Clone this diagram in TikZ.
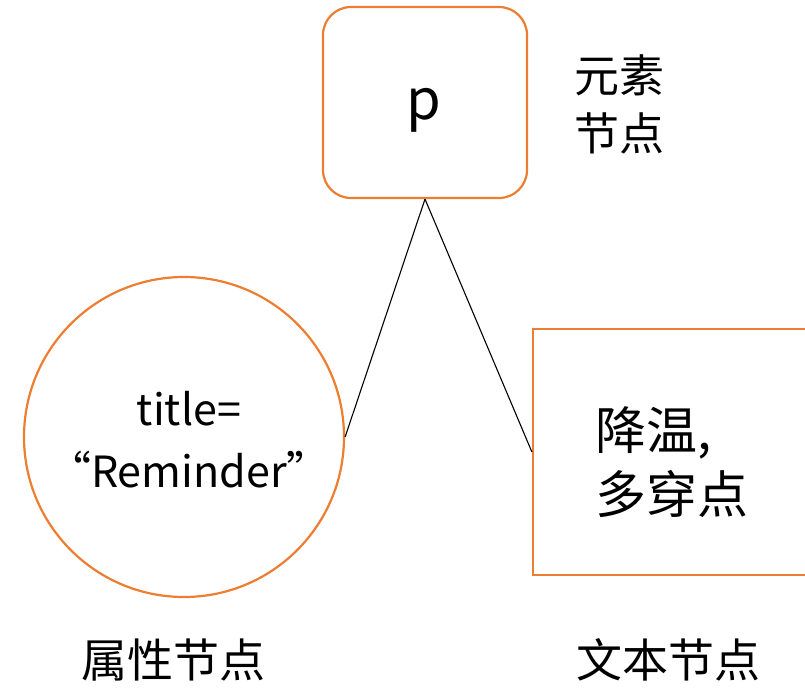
\documentclass[tikz,border=0pt]{standalone}
\usepackage{fontspec}
\setmainfont{Noto Sans CJK SC}
\definecolor{office}{HTML}{ED7D31}
\begin{document}
\begin{tikzpicture}[x=1pt,y=-1pt,
  box/.style={draw=office,line width=2.2pt,inner sep=0pt},
  lbl/.style={inner sep=0pt,align=left},
  link/.style={draw=black,line width=1.1pt}]
\useasboundingbox (0,0) rectangle (805,688);
\begin{scope}
\clip (0,0) rectangle (805,688);
\node[box,rounded corners=28pt,minimum width=204pt,minimum height=191pt] (p) at (425,102.5) {};
\node[lbl,font={\fontsize{56}{60}\selectfont}] (pt) at (424,110) {p};
\node[box,circle,minimum size=320pt] (attr) at (184,437) {};
\node[lbl,align=center,font={\fontsize{43}{62}\selectfont}] (attrt) at (189,440) {title=\\“Reminder”};
\node[box,rectangle,minimum width=300pt,minimum height=246pt] (text) at (683,452) {};
\node[lbl,font={\fontsize{51}{64}\selectfont}] (textt) at (672,462) {降温,\\多穿点};
\end{scope}
\node[lbl,font={\fontsize{45}{58}\selectfont}] (elab) at (619,104) {元素\\节点};
\node[lbl,font={\fontsize{46}{50}\selectfont}] (alab) at (173,660) {属性节点};
\node[lbl,font={\fontsize{46}{50}\selectfont}] (tlab) at (668,660) {文本节点};
\coordinate (pb) at (p.south);
\draw[link] (pb) -- (attr.east);
\draw[link] (pb) -- (text.west |- 0,452);
\end{tikzpicture}
\end{document}
